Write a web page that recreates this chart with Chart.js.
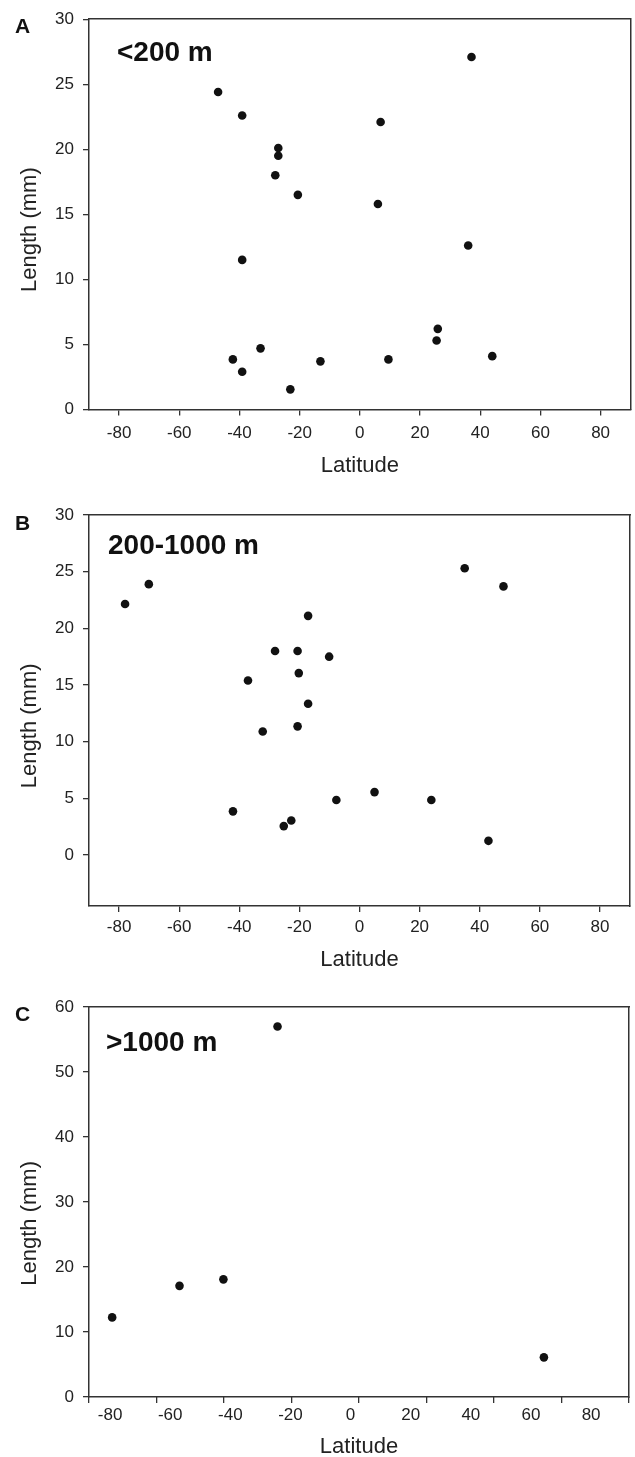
<!DOCTYPE html>
<html>
<head>
<meta charset="utf-8">
<script src="https://cdn.jsdelivr.net/npm/chart.js@4.4.1/dist/chart.umd.min.js"></script>
<style>
  html, body { margin: 0; padding: 0; background: #fff; overflow: hidden; }
  body { width: 635px; height: 1457px; position: relative; font-family: "Liberation Sans", Arial, sans-serif; }
  .panel { position: absolute; left: 0; width: 635px; }
  .panel canvas { display: block; }
  .tag { position: absolute; font-weight: bold; color: #111; white-space: nowrap; }
  .letter { font-size: 21px; line-height: 21px; left: 15px; }
  .depth { font-size: 28px; line-height: 28px; }
</style>
</head>
<body>
<div class="panel" style="top:0;height:480px"><canvas id="chA" width="635" height="480"></canvas></div>
<div class="panel" style="top:480px;height:495px"><canvas id="chB" width="635" height="495"></canvas></div>
<div class="panel" style="top:975px;height:482px"><canvas id="chC" width="635" height="482"></canvas></div>

<div class="tag letter" style="top:15px">A</div>
<div class="tag depth" style="left:117px;top:38px">&lt;200 m</div>
<div class="tag letter" style="top:512px">B</div>
<div class="tag depth" style="left:108px;top:531px">200-1000 m</div>
<div class="tag letter" style="top:1003px">C</div>
<div class="tag depth" style="left:106px;top:1028px">&gt;1000 m</div>

<script>
// ── Datos: latitud (°) y longitud (mm) por franja de profundidad ──
// A · <200 m
const latA = [37.1, -47.1, -39.1, 6.9, -27.1, -27.1, -28.1, -20.6, 6.0, 36.0,
              -39.1, 25.9, 25.5, -33.0, -42.2, 44.0, -13.1, 9.5, -39.1, -23.1];
const lenA = [27.1, 24.4, 22.6, 22.1, 20.1, 19.5, 18.0, 16.5, 15.8, 12.6,
              11.5, 6.2, 5.3, 4.7, 3.85, 4.1, 3.7, 3.85, 2.9, 1.55];
// B · 200-1000 m
const latB = [-78.0, -70.1, 35.0, 47.9, -17.1, -28.1, -20.6, -10.1, -20.2, -37.1,
              -17.1, -32.2, -20.6, -42.1, -25.2, -22.7, -7.7, 5.0, 23.9, 42.9];
const lenB = [22.15, 23.9, 25.3, 23.7, 21.1, 18.0, 18.0, 17.5, 16.05, 15.4,
              13.35, 10.9, 11.35, 3.85, 2.55, 3.05, 4.85, 5.55, 4.85, 1.25];
// C · >1000 m
const latC = [-79.3, -56.9, -42.3, -24.3, 64.3];
const lenC = [12.25, 17.1, 18.1, 57.0, 6.1];

// Ticks
const X_TICKS = [-80, -60, -40, -20, 0, 20, 40, 60, 80];
const Y_TICKS_30 = [0, 5, 10, 15, 20, 25, 30];
const Y_TICKS_60 = [0, 10, 20, 30, 40, 50, 60];
const C_TICK_SLOTS = [0, 1, 2, 3, 4, 5, 6, 7, 8];   // marcas del eje C (desalineadas en el original)

const INK = '#111';
const TXT = '#222';
const AXIS = '#333';
const FAMILY = '"Liberation Sans", Arial, sans-serif';
const TICK_FONT = { family: FAMILY, size: 17 };
const TITLE_FONT = { family: FAMILY, size: 22 };

const asTicks = (arr) => (s) => { s.ticks = arr.map((v) => ({ value: v })); };

function panel(canvasId, p) {
  const frame = (pos, lo, hi) => ({
    type: 'linear', position: pos, min: lo, max: hi,
    ticks: { display: false },
    grid: { display: false, drawTicks: false },
    border: { display: true, color: AXIS, width: 1.5 },
    afterFit: (s) => { if (pos === 'top') s.height = 0; else s.width = 0; }
  });

  const scales = {};
  if (p.split) {
    // sólo marcas, sin etiquetas, pegadas al marco
    scales.xMarks = {
      type: 'linear', position: 'bottom', min: 0, max: 8, weight: 0,
      afterBuildTicks: asTicks(C_TICK_SLOTS),
      ticks: { display: false },
      grid: { drawOnChartArea: false, drawTicks: true, tickLength: 6, color: AXIS, lineWidth: 1.3 },
      border: { display: false },
      afterFit: (s) => { s.height = 0; }
    };
  }
  scales.x = {
    type: 'linear', position: 'bottom', min: p.xMin, max: p.xMax, weight: 1,
    afterBuildTicks: asTicks(X_TICKS),
    afterFit: (s) => { s.height = p.xAxisH; },
    ticks: { color: TXT, font: TICK_FONT, padding: p.xPad, autoSkip: false, maxRotation: 0 },
    grid: { drawOnChartArea: false, drawTicks: !p.split, tickLength: 6, color: AXIS, lineWidth: 1.3 },
    border: { display: true, color: AXIS, width: 1.5 },
    title: { display: true, text: 'Latitude', color: TXT, font: TITLE_FONT, padding: { top: 0, bottom: p.titlePad } }
  };
  scales.y = {
    type: 'linear', position: 'left', min: p.yMin, max: p.yMax,
    afterBuildTicks: asTicks(p.yTicks),
    afterFit: (s) => { s.width = 89; },
    ticks: { color: TXT, font: TICK_FONT, padding: 9 },
    grid: { drawOnChartArea: false, drawTicks: true, tickLength: 6, color: AXIS, lineWidth: 1.3 },
    border: { display: true, color: AXIS, width: 1.5 },
    // espacios al final: el título del original queda algo por debajo del centro
    title: { display: true, text: 'Length (mm)' + ' '.repeat(p.yTitleShift), color: TXT, font: TITLE_FONT,
             padding: { top: 16.8, bottom: 0 } }
  };
  scales.xTop = frame('top', p.xMin, p.xMax);
  scales.yRight = frame('right', p.yMin, p.yMax);

  return new Chart(document.getElementById(canvasId), {
    type: 'scatter',
    data: {
      datasets: [{
        xAxisID: 'x', yAxisID: 'y',
        data: p.lat.map((x, i) => ({ x, y: p.len[i] })),
        pointRadius: 4.3, pointHoverRadius: 4.3,
        backgroundColor: INK, borderWidth: 0
      }]
    },
    options: {
      responsive: false, animation: false, events: [],
      layout: { padding: { top: p.padTop, right: p.padRight, left: 0, bottom: 0 } },
      plugins: { legend: { display: false }, tooltip: { enabled: false } },
      scales
    }
  });
}

panel('chA', { lat: latA, len: lenA, xMin: -90, xMax: 90, yMin: 0, yMax: 30, yTicks: Y_TICKS_30,
               padTop: 17, padRight: 2, xAxisH: 70.5, xPad: 7.3, titlePad: 0.8, yTitleShift: 5 });
panel('chB', { lat: latB, len: lenB, xMin: -90, xMax: 90, yMin: -4.5, yMax: 30, yTicks: Y_TICKS_30,
               padTop: 35, padRight: 5, xAxisH: 69, xPad: 4.8, titlePad: 1.8, yTitleShift: 5 });
panel('chC', { lat: latC, len: lenC, xMin: -87, xMax: 92.6, yMin: 0, yMax: 60, yTicks: Y_TICKS_60,
               padTop: 32, padRight: 6, xAxisH: 60, xPad: 7.8, titlePad: -3.2, split: true, yTitleShift: 7 });
</script>
</body>
</html>
